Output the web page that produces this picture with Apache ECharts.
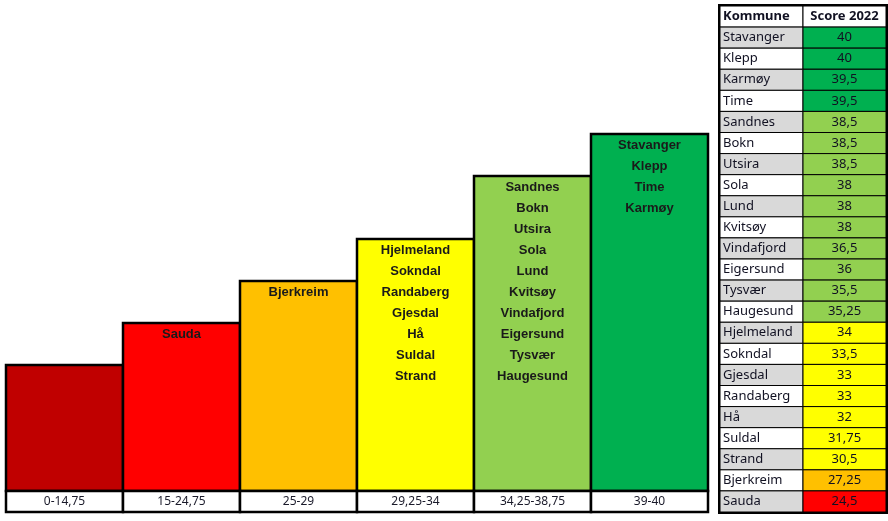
<!DOCTYPE html>
<html style="height: 100%">
<head>
<meta charset="utf-8">
<script type="text/javascript" src="https://cdn.jsdelivr.net/npm/echarts@6/dist/echarts.min.js"></script>
</head>
<body style="height: 100%; margin: 0; background: #fff">
<div id="container" style="width: 888px; height: 521px"></div>
<script type="text/javascript">
// score bins (bars)
var binLabels = ['0-14,75', '15-24,75', '25-29', '29,25-34', '34,25-38,75', '39-40'];
var binHeights = [3, 4, 5, 6, 7.5, 8.5];
var binMin = [0, 15, 25, 29.25, 34.25, 39];
var binColors = ['#c00000', '#ff0000', '#ffc000', '#ffff00', '#92d050', '#00b050'];
var binNames = [
  [],
  ['Sauda'],
  ['Bjerkreim'],
  ['Hjelmeland', 'Sokndal', 'Randaberg', 'Gjesdal', 'Hå', 'Suldal', 'Strand'],
  ['Sandnes', 'Bokn', 'Utsira', 'Sola', 'Lund', 'Kvitsøy', 'Vindafjord', 'Eigersund', 'Tysvær', 'Haugesund'],
  ['Stavanger', 'Klepp', 'Time', 'Karmøy']
];

// table
var tableHeader = ['Kommune', 'Score 2022'];
var kommuner = ['Stavanger', 'Klepp', 'Karmøy', 'Time', 'Sandnes', 'Bokn', 'Utsira', 'Sola', 'Lund', 'Kvitsøy',
  'Vindafjord', 'Eigersund', 'Tysvær', 'Haugesund', 'Hjelmeland', 'Sokndal', 'Gjesdal', 'Randaberg', 'Hå',
  'Suldal', 'Strand', 'Bjerkreim', 'Sauda'];
var scores = [40, 40, 39.5, 39.5, 38.5, 38.5, 38.5, 38, 38, 38, 36.5, 36, 35.5, 35.25, 34, 33.5, 33, 33, 32,
  31.75, 30.5, 27.25, 24.5];

function scoreColor(v) {
  var c = binColors[0];
  for (var i = 0; i < binMin.length; i++) {
    if (v >= binMin[i]) c = binColors[i];
  }
  return c;
}
function fmt(v) {
  return String(v).replace('.', ',');
}

// build table cells
var cells = [];
var rows = [];
cells.push({ value: [0, 0], text: tableHeader[0], fill: '#fff', bold: true });
cells.push({ value: [1, 0], text: tableHeader[1], fill: '#fff', bold: true });
rows.push(0);
for (var i = 0; i < kommuner.length; i++) {
  rows.push(i + 1);
  cells.push({ value: [0, i + 1], text: kommuner[i], fill: i % 2 === 0 ? '#d9d9d9' : '#fff' });
  cells.push({ value: [1, i + 1], text: fmt(scores[i]), fill: scoreColor(scores[i]) });
}

// bars drawn as full-width boxes, one per category band
function boxItem(fill, textFn, textStyle) {
  return function (params, api) {
    var idx = api.value(0);
    var top = api.coord([idx, api.value(1)]);
    var base = api.coord([idx, 0]);
    var w = api.size([1, 0])[0];
    var x = top[0] - w / 2;
    var style = {
      text: textFn(idx),
      x: top[0],
      align: 'center',
      fill: '#1a1a1a'
    };
    for (var k in textStyle) style[k] = textStyle[k];
    style.y = textStyle.verticalAlign === 'top' ? top[1] + 1 : (top[1] + base[1]) / 2;
    return {
      type: 'group',
      children: [
        {
          type: 'rect',
          shape: { x: x, y: top[1], width: w, height: base[1] - top[1] },
          style: { fill: fill(idx), stroke: '#000', lineWidth: 2.5 }
        },
        { type: 'text', style: style }
      ]
    };
  };
}

var dom = document.getElementById('container');
var myChart = echarts.init(dom, null, { renderer: 'canvas' });

var option = {
  animation: false,
  backgroundColor: '#fff',
  grid: [
    { left: 6, right: 180, top: 113, height: 378 },
    { left: 6, right: 180, top: 491, height: 21 },
    { left: 720, width: 166, top: 6, height: 506, show: true, borderColor: '#000', borderWidth: 4 }
  ],
  xAxis: [
    { gridIndex: 0, type: 'category', data: binLabels, show: false },
    { gridIndex: 1, type: 'category', data: binLabels, show: false },
    { gridIndex: 2, type: 'category', data: tableHeader, show: false }
  ],
  yAxis: [
    { gridIndex: 0, type: 'value', min: 0, max: 9, show: false },
    { gridIndex: 1, type: 'value', min: 0, max: 1, show: false },
    { gridIndex: 2, type: 'category', data: rows, inverse: true, show: false }
  ],
  series: [
    {
      type: 'custom',
      xAxisIndex: 0,
      yAxisIndex: 0,
      data: binHeights.map(function (h, i) { return [i, h]; }),
      renderItem: boxItem(
        function (i) { return binColors[i]; },
        function (i) { return binNames[i].join('\n'); },
        { verticalAlign: 'top', fontFamily: 'Liberation Sans', fontWeight: 'bold', fontSize: 13, lineHeight: 21 }
      )
    },
    {
      type: 'custom',
      xAxisIndex: 1,
      yAxisIndex: 1,
      data: binLabels.map(function (l, i) { return [i, 1]; }),
      renderItem: boxItem(
        function () { return '#fff'; },
        function (i) { return binLabels[i]; },
        { verticalAlign: 'middle', fontFamily: 'Noto Sans', fontSize: 12, fill: '#1a1a2a' }
      )
    },
    {
      type: 'custom',
      xAxisIndex: 2,
      yAxisIndex: 2,
      data: cells,
      renderItem: function (params, api) {
        var col = api.value(0);
        var c = api.coord([col, api.value(1)]);
        var s = api.size([1, 1]);
        var x = c[0] - s[0] / 2;
        var y = c[1] - s[1] / 2;
        var cell = cells[params.dataIndex];
        return {
          type: 'group',
          children: [
            {
              type: 'rect',
              shape: { x: x, y: y, width: s[0], height: s[1] },
              style: { fill: cell.fill, stroke: '#000', lineWidth: 1 }
            },
            {
              type: 'text',
              style: {
                text: cell.text,
                x: col === 0 ? x + 3 : c[0],
                y: c[1],
                align: col === 0 ? 'left' : 'center',
                verticalAlign: 'middle',
                fontFamily: 'Noto Sans',
                fontSize: 13,
                fontWeight: cell.bold ? 'bold' : 'normal',
                fill: '#111122'
              }
            }
          ]
        };
      }
    }
  ]
};
myChart.setOption(option);
</script>
</body>
</html>
